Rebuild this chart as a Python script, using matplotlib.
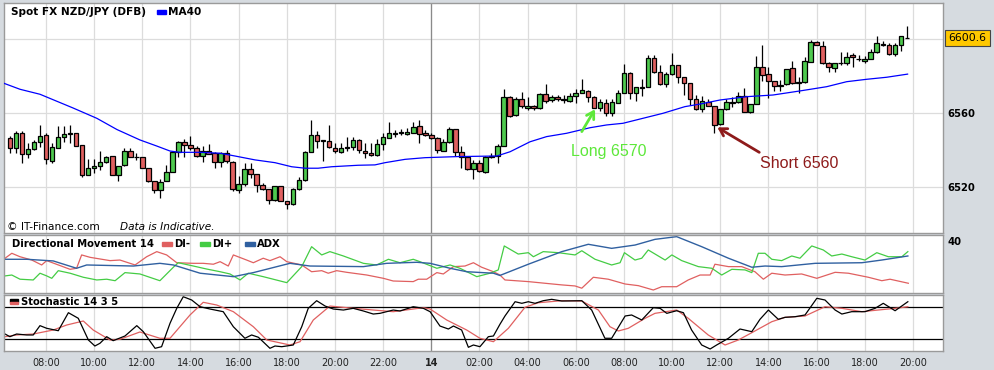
import numpy as np
import matplotlib.pyplot as plt
from matplotlib.patches import Rectangle

# 15-minute candles, first one at 06:30 (hours counted from midnight of day 1)
first_candle = 6.5
step = 0.25

opens = [6546.5, 6541.1, 6549.5, 6537.8, 6540.5, 6544.3, 6548.3, 6534.4, 6541.1, 6547.0,
         6548.6, 6549.2, 6542.9, 6526.5, 6530.3, 6531.5, 6533.5, 6536.9, 6526.5, 6531.9,
         6539.6, 6536.2, 6536.6, 6530.3, 6523.4, 6518.5, 6523.4, 6528.1, 6539.3, 6544.3,
         6542.9, 6541.1, 6536.9, 6539.4, 6538.4, 6533.5, 6538.4, 6533.8, 6518.5, 6521.8,
         6529.7, 6527.2, 6521.2, 6518.9, 6513.1, 6520.7, 6512.6, 6510.8, 6518.9, 6523.9,
         6538.9, 6548.3, 6544.9, 6544.9, 6541.1, 6538.9, 6541.1, 6542.0, 6545.4, 6539.6,
         6538.7, 6537.5, 6543.2, 6546.8, 6549.0, 6549.2, 6548.8, 6549.5, 6553.1, 6549.5,
         6548.3, 6546.5, 6539.8, 6544.3, 6551.5, 6539.3, 6536.6, 6529.7, 6533.0, 6528.5,
         6536.4, 6537.1, 6542.5, 6568.6, 6558.9, 6567.6, 6563.0, 6563.9, 6562.7, 6570.3,
         6567.2, 6568.6, 6567.2, 6566.8, 6569.4, 6570.8, 6572.2, 6569.0, 6562.7, 6565.4,
         6560.0, 6565.8, 6570.8, 6581.6, 6571.2, 6573.9, 6574.4, 6589.7, 6582.5, 6575.7,
         6581.2, 6586.1, 6579.4, 6576.2, 6567.6, 6562.1, 6566.1, 6563.9, 6554.0, 6562.1,
         6565.8, 6566.3, 6569.4, 6560.5, 6564.8, 6584.8, 6581.2, 6577.6, 6574.8, 6575.8,
         6584.3, 6576.6, 6577.1, 6587.9, 6598.4, 6596.4, 6587.4, 6584.3, 6587.0, 6587.4,
         6591.5, 6589.2, 6588.5, 6589.2, 6593.0, 6597.5, 6596.7, 6591.9, 6596.7, 6600.9]
highs = [6547.7, 6550.6, 6550.6, 6544.1, 6545.6, 6553.7, 6549.5, 6543.8, 6553.1, 6553.1,
         6553.7, 6549.5, 6542.9, 6535.1, 6535.1, 6539.8, 6536.9, 6536.9, 6531.5, 6541.1,
         6541.1, 6538.7, 6536.6, 6530.3, 6523.4, 6524.5, 6532.1, 6539.6, 6545.2, 6545.9,
         6547.7, 6542.3, 6542.3, 6543.2, 6539.3, 6539.3, 6540.2, 6534.4, 6526.1, 6533.0,
         6533.0, 6527.2, 6522.1, 6518.9, 6520.7, 6520.7, 6512.6, 6519.4, 6525.4, 6539.8,
         6556.4, 6550.6, 6545.4, 6553.7, 6543.8, 6543.8, 6547.4, 6547.4, 6545.9, 6543.8,
         6543.8, 6545.9, 6549.5, 6555.5, 6551.0, 6551.3, 6551.9, 6555.5, 6556.4, 6551.0,
         6549.2, 6547.4, 6545.9, 6552.4, 6551.5, 6542.3, 6536.6, 6534.8, 6534.8, 6536.9,
         6538.4, 6543.2, 6572.9, 6569.4, 6569.0, 6571.7, 6569.0, 6564.5, 6571.2, 6575.8,
         6569.9, 6569.9, 6569.9, 6570.8, 6573.0, 6578.4, 6572.6, 6569.4, 6567.6, 6567.6,
         6567.6, 6572.6, 6586.7, 6582.1, 6574.4, 6578.4, 6591.5, 6591.5, 6586.1, 6582.5,
         6592.4, 6586.1, 6579.4, 6576.2, 6569.9, 6569.4, 6567.6, 6563.9, 6562.1, 6567.6,
         6568.6, 6571.7, 6573.5, 6564.8, 6591.0, 6596.9, 6585.2, 6577.6, 6578.0, 6583.8,
         6588.5, 6579.8, 6590.6, 6599.6, 6599.3, 6599.3, 6587.9, 6587.4, 6593.0, 6593.0,
         6592.4, 6591.5, 6591.0, 6594.6, 6602.0, 6599.3, 6597.8, 6597.8, 6601.8, 6607.2]
lows = [6538.4, 6538.4, 6533.0, 6535.7, 6540.2, 6542.0, 6532.4, 6533.0, 6541.1, 6544.7,
        6543.8, 6542.3, 6525.4, 6526.5, 6527.6, 6529.4, 6533.0, 6526.5, 6523.6, 6531.5,
        6536.2, 6534.8, 6530.6, 6523.0, 6517.1, 6514.0, 6523.4, 6528.1, 6536.6, 6536.6,
        6540.2, 6536.6, 6533.8, 6537.8, 6530.3, 6531.1, 6533.0, 6518.2, 6516.7, 6520.7,
        6524.9, 6517.6, 6518.5, 6511.0, 6512.8, 6512.6, 6508.1, 6510.4, 6518.5, 6523.6,
        6538.9, 6541.1, 6534.4, 6541.1, 6538.7, 6538.4, 6539.8, 6540.2, 6538.4, 6535.7,
        6536.9, 6536.9, 6540.2, 6546.5, 6547.4, 6548.3, 6548.3, 6549.2, 6543.8, 6547.7,
        6545.9, 6538.4, 6539.8, 6544.1, 6536.9, 6530.3, 6529.4, 6524.3, 6528.5, 6527.9,
        6535.7, 6533.3, 6542.5, 6557.8, 6558.5, 6562.7, 6561.8, 6561.8, 6562.3, 6565.4,
        6566.3, 6566.7, 6565.4, 6566.3, 6565.8, 6570.8, 6566.3, 6562.7, 6561.4, 6558.5,
        6558.5, 6565.4, 6570.8, 6567.6, 6566.8, 6569.4, 6574.4, 6582.0, 6575.3, 6574.4,
        6580.7, 6576.6, 6569.9, 6564.5, 6561.8, 6560.9, 6563.9, 6549.5, 6553.7, 6561.8,
        6563.2, 6565.4, 6560.5, 6560.0, 6564.8, 6577.6, 6568.1, 6572.2, 6572.2, 6575.3,
        6575.8, 6571.2, 6576.6, 6587.9, 6596.7, 6586.7, 6582.5, 6582.3, 6586.1, 6586.1,
        6585.2, 6588.3, 6587.4, 6589.2, 6592.4, 6596.4, 6591.5, 6591.0, 6593.9, 6600.6]
closes = [6541.1, 6549.2, 6538.0, 6540.5, 6544.3, 6547.7, 6535.1, 6541.6, 6547.0, 6548.6,
          6549.2, 6542.3, 6526.6, 6530.3, 6531.5, 6533.5, 6536.6, 6526.5, 6531.5, 6539.6,
          6536.2, 6536.6, 6530.6, 6523.4, 6518.5, 6523.0, 6528.1, 6539.3, 6544.3, 6542.9,
          6541.4, 6537.1, 6539.8, 6538.2, 6533.5, 6538.4, 6534.4, 6518.9, 6521.8, 6529.7,
          6527.2, 6521.1, 6518.9, 6513.1, 6520.7, 6512.6, 6511.0, 6518.9, 6523.9, 6539.3,
          6548.3, 6544.9, 6545.4, 6541.8, 6539.6, 6541.1, 6541.6, 6545.4, 6540.2, 6538.4,
          6537.5, 6543.4, 6547.0, 6549.4, 6549.4, 6549.7, 6549.9, 6552.4, 6548.8, 6548.3,
          6546.8, 6540.2, 6544.3, 6551.5, 6539.3, 6536.6, 6529.7, 6533.0, 6528.8, 6536.2,
          6537.1, 6542.5, 6569.0, 6558.5, 6567.7, 6563.9, 6563.9, 6562.7, 6570.3, 6566.8,
          6568.6, 6567.6, 6567.6, 6569.4, 6571.2, 6572.6, 6569.0, 6563.0, 6565.9, 6560.0,
          6565.9, 6570.8, 6581.6, 6570.8, 6574.0, 6574.4, 6589.7, 6582.5, 6575.8, 6581.2,
          6586.1, 6579.4, 6576.2, 6567.6, 6562.1, 6566.7, 6563.9, 6553.7, 6562.1, 6566.1,
          6566.3, 6569.4, 6560.5, 6564.8, 6584.8, 6580.7, 6577.4, 6574.8, 6575.3, 6583.8,
          6576.2, 6576.9, 6588.3, 6598.4, 6596.7, 6587.4, 6584.8, 6587.0, 6587.4, 6590.6,
          6590.3, 6589.5, 6589.2, 6593.0, 6597.8, 6596.7, 6591.9, 6596.7, 6601.8, 6600.6]

# MA40
ma_t = [6.26, 6.92, 7.75, 9.12, 10.11, 10.95, 11.90, 12.60, 13.15, 13.56, 14.40, 15.23,
        15.85, 16.68, 17.51, 18.20, 18.76, 19.30, 19.86, 20.96, 21.66, 22.08, 22.91, 23.74,
        25.11, 26.72, 27.27, 28.10, 28.79, 29.62, 30.59, 31.28, 31.96, 32.79, 33.62, 34.53,
        35.16, 35.99, 37.10, 38.19, 39.31, 40.42, 41.25, 42.08, 42.91, 43.78]
ma_v = [6576.2, 6573.0, 6570.3, 6562.9, 6557.3, 6551.2, 6545.6, 6542.3, 6539.6, 6538.9,
        6538.9, 6538.4, 6536.9, 6534.8, 6533.3, 6531.1, 6530.3, 6530.3, 6531.1, 6531.9,
        6532.1, 6533.3, 6535.1, 6536.0, 6536.6, 6536.9, 6539.2, 6544.6, 6547.4, 6549.2,
        6552.2, 6553.7, 6554.6, 6557.3, 6560.0, 6563.6, 6565.0, 6567.2, 6569.0, 6569.9,
        6572.1, 6574.4, 6577.1, 6578.4, 6579.5, 6581.2]

# Directional Movement 14
dim_t = [6.30, 6.58, 6.92, 7.41, 7.82, 8.03, 9.00, 9.27, 9.48, 9.83, 10.66, 11.07, 11.70,
         12.18, 12.60, 13.01, 13.43, 14.12, 14.53, 14.95, 15.23, 15.57, 15.78, 16.33, 16.61,
         17.02, 17.30, 17.72, 18.00, 18.62, 19.03, 19.45, 19.72, 20.07, 20.49, 21.32, 22.01,
         22.42, 23.25, 23.46, 23.81, 24.23, 24.50, 24.92, 25.40, 25.75, 26.09, 26.58, 26.85,
         27.06, 28.03, 28.72, 29.42, 29.97, 30.25, 30.73, 31.35, 32.05, 32.60, 33.22, 33.57,
         34.19, 34.67, 35.16, 35.58, 35.78, 36.34, 36.89, 37.44, 37.79, 38.14, 38.69, 39.38,
         40.01, 40.77, 41.32, 42.15, 42.71, 43.05, 43.81]
dim_v = [28.2, 31.5, 29.2, 27.0, 23.7, 26.6, 20.8, 21.5, 30.4, 28.8, 26.6, 27.0, 23.7,
         29.2, 32.6, 30.4, 25.2, 24.8, 24.8, 24.2, 25.9, 23.0, 30.4, 27.0, 25.2,
         28.2, 26.6, 29.2, 25.9, 23.7, 19.2, 19.9, 18.2, 19.9, 18.8, 17.0, 14.8,
         13.0, 12.6, 14.2, 14.2, 18.6, 17.7, 22.6, 23.0, 25.2, 22.2, 19.2, 17.0,
         13.7, 12.6, 11.5, 10.4, 9.7, 8.2, 15.5, 14.2, 11.0, 9.9, 7.0, 9.2,
         9.2, 13.7, 17.0, 17.0, 24.2, 22.6, 22.6, 19.2, 14.2, 18.2, 17.0, 17.7,
         14.8, 18.8, 18.2, 15.5, 13.2, 14.2, 11.5]
dip_t = [6.30, 6.58, 6.92, 7.47, 7.75, 8.03, 8.24, 8.51, 9.00, 9.55, 10.11, 10.52, 10.87,
         11.28, 11.90, 12.73, 13.29, 13.49, 14.12, 14.67, 15.23, 15.64, 16.06, 16.40, 17.02,
         18.00, 18.62, 19.03, 19.45, 19.79, 20.35, 21.18, 21.73, 22.22, 22.70, 23.25, 23.53,
         24.23, 24.78, 25.19, 25.89, 26.44, 26.78, 27.03, 27.61, 28.03, 28.24, 28.65, 29.28,
         29.97, 30.25, 30.80, 31.49, 31.84, 32.02, 32.46, 32.74, 33.01, 33.71, 33.99, 34.40,
         35.09, 35.65, 36.06, 36.48, 37.03, 37.31, 37.58, 37.86, 38.14, 38.55, 38.97, 39.31,
         39.80, 40.28, 40.63, 41.05, 41.46, 42.01, 42.50, 42.98, 43.54, 43.79]
dip_v = [16.4, 17.0, 14.2, 13.7, 18.2, 16.4, 14.8, 19.9, 18.2, 15.5, 13.7, 14.2, 13.2,
         18.6, 17.7, 13.2, 22.2, 25.2, 23.0, 21.0, 19.2, 17.7, 13.7, 18.2, 15.9,
         11.9, 22.6, 35.9, 30.4, 32.6, 29.7, 24.8, 23.7, 27.5, 25.2, 27.5, 25.9,
         21.5, 23.7, 21.5, 15.9, 18.2, 20.4, 36.4, 31.0, 31.9, 29.2, 32.6, 31.9,
         30.4, 33.2, 27.5, 23.7, 25.2, 31.9, 27.0, 28.2, 33.7, 27.0, 30.4, 26.6,
         22.6, 21.5, 17.0, 20.8, 20.4, 18.6, 31.5, 31.5, 27.5, 26.6, 29.7, 28.2,
         36.4, 33.7, 29.7, 31.0, 29.2, 27.0, 31.9, 29.2, 29.2, 32.6]
adx_t = [6.30, 7.20, 8.30, 9.27, 9.69, 11.63, 12.73, 13.29, 14.40, 15.78, 16.61, 18.13,
         18.96, 21.18, 22.15, 23.40, 23.95, 24.78, 25.47, 26.58, 26.85, 28.03, 29.42, 30.52,
         31.49, 32.46, 33.29, 34.19, 35.23, 36.34, 37.31, 37.86, 38.55, 39.94, 41.88, 42.71,
         43.79]
adx_v = [27.5, 27.5, 26.4, 21.5, 23.7, 23.0, 24.8, 23.7, 18.2, 15.9, 18.6, 24.8,
         23.0, 22.6, 24.8, 25.5, 24.8, 21.5, 19.2, 18.2, 16.7, 24.2, 32.6, 37.5,
         34.8, 37.0, 40.8, 42.6, 35.9, 28.2, 22.2, 23.0, 22.6, 24.8, 25.2, 27.0,
         29.7]

# Stochastic 14 3 5
stk_t = [6.30, 6.50, 6.78, 7.20, 7.47, 7.75, 8.03, 8.51, 8.93, 9.34, 9.76, 10.03, 10.24,
         10.52, 10.79, 11.28, 11.77, 12.04, 12.53, 12.80, 13.15, 13.43, 13.70, 14.05, 14.40,
         14.81, 15.36, 15.78, 16.26, 16.54, 16.82, 17.30, 17.51, 17.79, 18.27, 18.62, 18.89,
         19.24, 19.59, 19.93, 20.35, 20.76, 21.18, 21.59, 21.87, 22.42, 22.70, 23.25, 23.67,
         23.95, 24.36, 24.71, 24.92, 25.26, 25.54, 25.75, 26.02, 26.37, 26.58, 26.85, 27.06,
         27.48, 27.76, 28.03, 28.31, 28.65, 29.00, 29.42, 30.25, 30.66, 31.21, 31.49, 32.05,
         32.32, 32.74, 33.22, 33.50, 33.78, 34.19, 34.47, 34.81, 35.23, 35.58, 35.85, 36.34,
         36.82, 37.31, 37.65, 38.00, 38.41, 38.69, 39.11, 39.52, 40.01, 40.35, 40.77, 41.05,
         41.46, 42.01, 42.43, 42.77, 43.26, 43.79]
stk_v = [29.9, 24.9, 29.9, 28.1, 28.1, 45.6, 40.6, 36.1, 69.9, 59.4, 18.7, 7.4, 12.5,
         24.9, 17.4, 26.2, 45.6, 34.3, 3.1, 6.1, 50.0, 78.1, 99.9, 93.7, 81.1,
         76.8, 71.8, 43.6, 21.9, 28.1, 23.8, 3.1, 7.4, 6.1, 9.3, 43.6, 78.1,
         92.4, 82.4, 76.8, 74.9, 78.1, 73.1, 67.4, 68.7, 74.9, 73.1, 81.1, 78.1,
         71.8, 44.9, 39.3, 44.9, 37.4, 5.0, 9.3, 6.1, 24.9, 26.2, 48.1, 63.7,
         90.5, 87.5, 90.5, 87.5, 92.4, 95.0, 91.8, 92.4, 74.9, 21.9, 21.9, 63.7,
         65.6, 56.2, 79.3, 78.1, 68.7, 73.6, 69.9, 37.4, 9.3, 1.8, 9.3, 21.9,
         39.3, 34.3, 57.5, 74.9, 57.5, 61.2, 62.4, 65.6, 96.9, 93.7, 74.9, 67.4,
         71.8, 71.8, 78.1, 87.5, 73.6, 90.5]
std_t = [6.30, 6.78, 7.47, 8.30, 8.86, 9.55, 9.96, 10.66, 11.07, 11.90, 12.73, 13.15,
         13.98, 14.53, 15.09, 15.78, 16.61, 17.17, 18.13, 18.55, 19.10, 19.79, 20.76, 22.42,
         23.67, 23.95, 24.64, 25.47, 26.02, 26.58, 27.20, 27.89, 28.44, 29.42, 30.25, 30.94,
         31.42, 31.77, 32.18, 32.88, 33.29, 34.19, 34.67, 35.50, 36.20, 36.75, 37.31, 38.14,
         38.69, 39.52, 40.35, 41.05, 41.88, 43.26, 43.79]
std_v = [24.9, 28.1, 29.9, 37.4, 46.8, 54.3, 37.4, 18.7, 20.0, 33.7, 21.9, 21.9,
         65.6, 89.4, 84.3, 71.8, 43.6, 18.7, 9.3, 15.5, 56.2, 82.4, 78.1, 71.8,
         79.3, 76.8, 56.2, 37.4, 21.9, 15.5, 40.6, 80.0, 88.6, 92.4, 91.8, 74.9,
         43.6, 35.6, 40.6, 59.4, 68.7, 74.9, 59.4, 28.1, 9.3, 18.7, 32.4, 53.0,
         61.2, 63.7, 81.1, 78.1, 71.8, 78.1, 81.1]

tick_hours = list(range(8, 46, 2))
tick_labels = ["08:00", "10:00", "12:00", "14:00", "16:00", "18:00", "20:00", "22:00", "14",
               "02:00", "04:00", "06:00", "08:00", "10:00", "12:00", "14:00", "16:00",
               "18:00", "20:00"]

GREEN = "#4ec94e"
RED = "#e06060"
GRID = "#dcdcdc"
EDGE = "#9a9a9a"

W, H = 995, 370
fig = plt.figure(figsize=(W / 100, H / 100), dpi=100, facecolor="#d6dbe0")


def fx(px):
    return px / W


def fy(py):
    return 1 - py / H


ax = fig.add_axes([fx(4), fy(233.3), fx(939), 230 / H])
ax_dmi = fig.add_axes([fx(4), fy(292.7), fx(939), 57.7 / H], sharex=ax)
ax_st = fig.add_axes([fx(4), fy(350.7), fx(939), 55.7 / H], sharex=ax)

for a in (ax, ax_dmi, ax_st):
    a.set_facecolor("white")
    for s in a.spines.values():
        s.set_color(EDGE)
        s.set_linewidth(1)
    a.set_xticks(tick_hours)
    a.grid(axis="x", color=GRID, lw=0.9)
    a.axvline(24, color="#8a8a8a", lw=0.9, zorder=1)
    a.set_axisbelow(True)
    a.yaxis.tick_right()
    a.tick_params(length=0)

ax.set_xlim(6.256, 45.25)

# candles
t = first_candle + step * np.arange(len(closes))
o = np.array(opens)
c = np.array(closes)
up = c >= o
ax.vlines(t, lows, highs, color="black", lw=0.9, zorder=2)
ax.bar(t, c - o, bottom=o, width=0.19, color=np.where(up, GREEN, RED),
       edgecolor="black", linewidth=0.9, zorder=3)
ax.plot(ma_t, ma_v, color="#0000ff", lw=0.9, zorder=4)

ax.set_ylim(6495.1, 6619.5)
ax.set_yticks([6520, 6560, 6600])
ax.set_yticklabels(["6520", "6560", ""], fontsize=7.2, fontweight="bold")
ax.grid(axis="y", color=GRID, lw=0.9)
ax.tick_params(labelbottom=False, pad=3)
ax.annotate(f"{closes[-1]:.1f}", xy=(1, closes[-1]), xycoords=("axes fraction", "data"),
            xytext=(4, 0), textcoords="offset points", va="center", ha="left", fontsize=7.8,
            bbox=dict(boxstyle="square,pad=0.3", fc="#ffc800", ec="#444444", lw=0.8))

# trade annotations
ax.annotate("", xy=(30.80, 6562.2), xytext=(30.25, 6550.1),
            arrowprops=dict(arrowstyle="->,head_length=0.5,head_width=0.3", color="#5de83a",
                            lw=2, shrinkA=0, shrinkB=0), zorder=5)
ax.text(31.38, 6539.5, "Long 6570", color="#5de83a", fontsize=11.5,
        family="Liberation Sans", ha="center", va="center")
ax.annotate("", xy=(35.88, 6552.4), xytext=(37.62, 6538.9),
            arrowprops=dict(arrowstyle="->,head_length=0.5,head_width=0.3", color="#8e1b1b",
                            lw=2, shrinkA=0, shrinkB=0), zorder=5)
ax.text(37.65, 6532.6, "Short 6560", color="#8e1b1b", fontsize=11.5,
        family="Liberation Sans", ha="left", va="center")

# DMI panel
ax_dmi.plot(dim_t, dim_v, color=RED, lw=0.9)
ax_dmi.plot(dip_t, dip_v, color="#44cc44", lw=0.9)
ax_dmi.plot(adx_t, adx_v, color="#3060a0", lw=1.0)
ax_dmi.set_ylim(5.2, 43.7)
ax_dmi.set_yticks([40])
ax_dmi.set_yticklabels(["40"], fontsize=7.2, fontweight="bold")
ax_dmi.tick_params(labelbottom=False, pad=3)

# Stochastic panel
ax_st.axhline(80, color="black", lw=0.9)
ax_st.axhline(20, color="black", lw=0.9)
ax_st.plot(std_t, std_v, color=RED, lw=0.9)
ax_st.plot(stk_t, stk_v, color="black", lw=0.9)
ax_st.set_ylim(-1.4, 103.1)
ax_st.set_yticks([])
ax_st.set_xticklabels(tick_labels, fontsize=7, color="#222222")
ax_st.tick_params(axis="x", pad=5)
ax_st.get_xticklabels()[8].set_fontweight("bold")

# headers
fig.text(fx(11), fy(12), "Spot FX NZD/JPY (DFB)", fontsize=7.6, fontweight="bold", va="center")
fig.add_artist(Rectangle((fx(157), fy(14)), fx(9), 4 / H, transform=fig.transFigure,
                         color="#0000ff"))
fig.text(fx(168), fy(12), "MA40", fontsize=7.6, fontweight="bold", va="center")

fig.text(fx(7), fy(226.7), "© IT-Finance.com", fontsize=7.6, va="center")
fig.text(fx(120), fy(226.7), "Data is Indicative.", fontsize=7.6, style="italic", va="center")

fig.text(fx(12), fy(244), "Directional Movement 14", fontsize=7.2, fontweight="bold", va="center")
for x0, col, lab in [(162, RED, "DI-"), (200, "#44cc44", "DI+"), (245, "#3060a0", "ADX")]:
    fig.add_artist(Rectangle((fx(x0), fy(246)), fx(10), 4.3 / H, transform=fig.transFigure,
                             color=col))
    fig.text(fx(x0 + 12), fy(244), lab, fontsize=7.2, fontweight="bold", va="center")

fig.add_artist(Rectangle((fx(10), fy(301.7)), fx(8), 2.4 / H, transform=fig.transFigure,
                         color="black"))
fig.add_artist(Rectangle((fx(10), fy(304)), fx(8), 2.3 / H, transform=fig.transFigure,
                         color=RED))
fig.text(fx(21), fy(301.7), "Stochastic 14 3 5", fontsize=7.2, fontweight="bold", va="center")

fig.savefig("out.png", dpi=100, facecolor=fig.get_facecolor())
